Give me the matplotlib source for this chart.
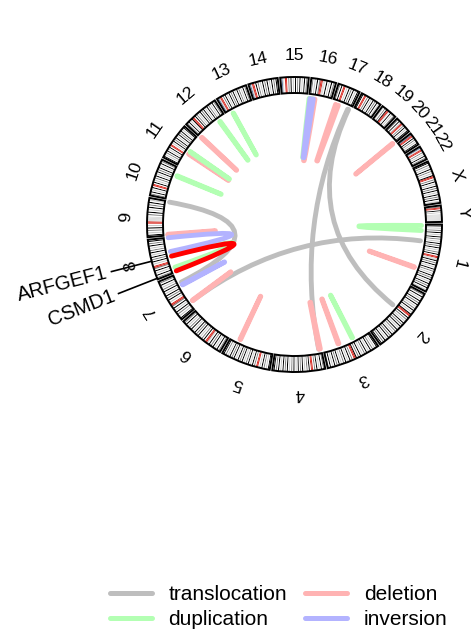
import numpy as np
import matplotlib.pyplot as plt
from matplotlib.patches import Wedge, PathPatch
from matplotlib.path import Path
from matplotlib.lines import Line2D

plt.rcParams['font.family'] = ['Liberation Sans', 'DejaVu Sans']

# hg19 chromosome sizes (Mb)
chroms = ['1', '2', '3', '4', '5', '6', '7', '8', '9', '10', '11', '12',
          '13', '14', '15', '16', '17', '18', '19', '20', '21', '22', 'X', 'Y']
chrom_len = [249.25, 243.20, 198.02, 191.15, 180.92, 171.12, 159.14, 146.36,
             141.21, 135.53, 135.01, 133.85, 115.17, 107.35, 102.53, 90.35,
             81.20, 78.08, 59.13, 63.03, 48.13, 51.30, 155.27, 59.37]

# coarse cytoband stains, equal-width bands per chromosome
# w=gneg 2=gpos50 3=gpos75 4=gpos100 c=acen v=gvar s=stalk
band_stains = {
    '1': "w4w2w3w4w2w4w3w2w4w3w4w2w3w4wc" "cvv4w3w4w2w4w3w2w4w3w4w2w4w3w4w2w",
    '2': "w3w4w2w4w3w4w2w3w4w2w4c" "cw4w3w2w4w3w4w2w4w3w2w4w3w4w2w4w3w4w",
    '3': "w4w2w3w4w2w4w3w2w4w3w4c" "cw3w4w2w4w3w2w4w3w4w2w4w3",
    '4': "w3w4w2w4w3wc" "cw4w3w2w4w3w4w2w4w3w2w4w3w4w2w4w3w4w",
    '5': "w4w2w3w4w2wc" "cw3w4w2w4w3w2w4w3w4w2w4w3w4w2w3w4w",
    '6': "w3w4w2w4w3w4w2c" "cw4w3w2w4w3w4w2w4w3w2w4w3w",
    '7': "w4w2w3w4w2w4w3c" "cw2w4w3w4w2w4w3w2w4w3w",
    '8': "w3w4w2w4w3c" "cw2w4w3w4w2w4w3w2w4w3w4w",
    '9': "w4w2w3w4w2wc" "cvvvvw3w4w2w4w3w4w2w",
    '10': "w3w4w2w4wc" "cw4w2w3w4w2w4w3w4w2w4w3w",
    '11': "w4w2w3w4w2w4wc" "cw2w4w3w4w2w4w3w4w2w4w",
    '12': "w3w4w2w4c" "cw4w3w2w4w3w4w2w4w3w2w4w3w",
    '13': "vsvc" "cw3w4w2w4w3w4w2w4w3w2w4w3w",
    '14': "vsvc" "cw4w3w2w4w3w4w2w4w3w4w",
    '15': "vsvwc" "cw3w4w2w4w3w4w2w4w3w",
    '16': "w3w2w4w3c" "cvvw4w2w4w3w",
    '17': "w3w4wc" "cw2w4w3w4w2w4w",
    '18': "w4wc" "cw3w4w2w4w3w4w2w",
    '19': "w2w3w4c" "cvw4w2w3w",
    '20': "w3w4w2c" "cw3w4w2w4w",
    '21': "vsc" "cw4w3w2w4w",
    '22': "vsvc" "cw3w2w4w3w",
    'X': "w4w3w2w4w3w2w4c" "cw3w4w2w4w3w4w2w4w3w4w2w",
    'Y': "w3c" "cw4w2wvvvvvvvw",
}
stain_col = {'w': '#FFFFFF', '2': '#C8C8C8', '3': '#828282', '4': '#000000',
             'c': '#D92F27', 'v': '#DCDCDC', 's': '#647FA4'}

# structural variants: (chrA, Mb, chrB, Mb)
translocation = [('9', 139, '7', 121), ('7', 31, '1', 68),
                 ('17', 68, '4', 10), ('17', 72, '2', 103)]
deletion = [('12', 2, '12', 5), ('11', 60, '11', 63), ('17', 14, '17', 26),
            ('16', 8, '16', 25), ('20', 58, '20', 61), ('1', 179, '1', 182),
            ('4', 3, '4', 9), ('3', 130, '3', 134), ('5', 142, '5', 145),
            ('7', 30, '7', 33), ('9', 1, '9', 5)]
duplication = [('13', 26, '13', 28), ('12', 103, '12', 106), ('11', 71, '11', 73),
               ('10', 100, '10', 103), ('16', 0.2, '16', 12), ('1', 4, '1', 25),
               ('3', 68, '3', 71), ('8', 20, '8', 70)]
inversion = [('16', 4, '16', 18), ('8', 88, '8', 146), ('7', 108, '7', 111)]
highlight = [('8', 3.8, '8', 68.2)]

genes = ['ARFGEF1', 'CSMD1']
gene_chrom = ['8', '8']
gene_pos = [68.2, 3.8]

sv_colors = {'translocation': '#BEBEBE', 'deletion': '#FFB3B3',
             'duplication': '#B3FFB3', 'inversion': '#B3B3FF'}

# circle layout (pixel units)
cx, cy = 294.5, 224.5
r_out, r_in, r_link = 147.5, 131.5, 127.0
gap = 1.0
deg_per_mb = (360 - gap * len(chroms)) / sum(chrom_len)

start = {}
acc = 0.0
for i, (c, L) in enumerate(zip(chroms, chrom_len)):
    start[c] = i * gap + acc * deg_per_mb
    acc += L


def angle(c, mb):
    return start[c] + mb * deg_per_mb


def xy(phi, r):
    t = np.radians(phi)
    return cx + r * np.cos(t), cy + r * np.sin(t)


fig = plt.figure(figsize=(4.71, 6.37), dpi=100)
ax = fig.add_axes([0, 0, 1, 1])
ax.set_xlim(0, 471)
ax.set_ylim(637, 0)
ax.set_aspect('equal')
ax.axis('off')

# ideogram
for c, L in zip(chroms, chrom_len):
    stains = band_stains[c]
    step = L / len(stains)
    for k, s in enumerate(stains):
        ax.add_patch(Wedge((cx, cy), r_out, angle(c, k * step), angle(c, (k + 1) * step),
                           width=r_out - r_in, fc=stain_col[s], ec='none', lw=0))
    ax.add_patch(Wedge((cx, cy), r_out, angle(c, 0), angle(c, L), width=r_out - r_in,
                       fill=False, ec='black', lw=1.4))
    mid = angle(c, L / 2)
    tx, ty = xy(mid, 169)
    ax.text(tx, ty, c, fontsize=12.5, ha='center', va='center',
            rotation=(270 - mid) % 360, rotation_mode='anchor')


def link(c1, p1, c2, p2, color, z):
    a = xy(angle(c1, p1), r_link)
    b = xy(angle(c2, p2), r_link)
    path = Path([a, (cx, cy), b], [Path.MOVETO, Path.CURVE3, Path.CURVE3])
    ax.add_patch(PathPatch(path, fc='none', ec=color, lw=3.5, capstyle='round',
                           joinstyle='round', zorder=z))


for kind, events in [('translocation', translocation), ('deletion', deletion),
                     ('duplication', duplication), ('inversion', inversion)]:
    for ev in events:
        link(*ev, sv_colors[kind], 2)
for ev in highlight:
    link(*ev, '#FF0000', 3)

# gene labels outside the ideogram
for g, c, p in zip(genes, gene_chrom, gene_pos):
    phi = angle(c, p)
    x0, y0 = xy(phi, r_out)
    x1, y1 = xy(phi, 189)
    ax.plot([x0, x1], [y0, y1], color='black', lw=1.2)
    tx, ty = xy(phi, 193)
    ax.text(tx, ty, g, fontsize=14.5, ha='right', va='center',
            rotation=(180 - phi) % 360, rotation_mode='anchor')

handles = [Line2D([], [], color=sv_colors[k], lw=3.6, solid_capstyle='round')
           for k in ['translocation', 'duplication', 'deletion', 'inversion']]
ax.legend(handles, ['translocation', 'duplication', 'deletion', 'inversion'],
          ncol=2, loc='center', bbox_to_anchor=(0.592, 0.047), frameon=False,
          fontsize=15, handlelength=2.0, handletextpad=0.8, columnspacing=0.87,
          labelspacing=0.3, borderpad=0)

fig.savefig('out.png', dpi=100)
